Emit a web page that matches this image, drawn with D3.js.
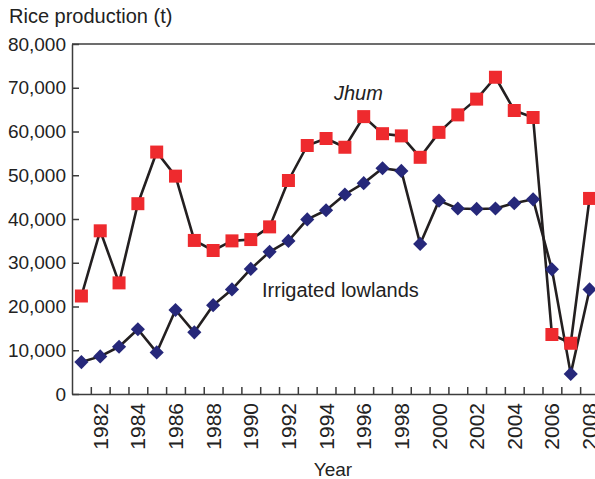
<!DOCTYPE html>
<html>
<head>
<meta charset="utf-8">
<script src="https://cdn.jsdelivr.net/npm/d3@7/dist/d3.min.js"></script>
<style>
  body { margin: 0; background: #fff; }
  svg { display: block; font-family: "Liberation Sans", Arial, sans-serif; }
</style>
</head>
<body>
<script>
// DATA
const years = d3.range(1981, 2009);
const jhum = [22400, 37300, 25400, 43500, 55300, 49800, 35100, 32800, 35000, 35300,
              38200, 48800, 56800, 58400, 56400, 63400, 59500, 59000, 54100, 59800,
              63800, 67400, 72400, 64800, 63200, 13600, 11600, 44700];
const lowlands = [7300, 8600, 10800, 14800, 9500, 19200, 14100, 20300, 23900, 28600,
                  32500, 35000, 39900, 42000, 45600, 48200, 51600, 51000, 34300, 44200,
                  42400, 42300, 42400, 43600, 44500, 28500, 4600, 23900];
const yTicks = [0, 10000, 20000, 30000, 40000, 50000, 60000, 70000, 80000];
const yearLabels = [1982, 1984, 1986, 1988, 1990, 1992, 1994, 1996, 1998, 2000, 2002, 2004, 2006, 2008];

// SIZES
const W = 595, H = 479;
const margin = {left: 72, top: 44, bottom: 394};
const yearStep = 18.82;

const svg = d3.select("body").append("svg")
  .attr("width", W)
  .attr("height", H);

const x = d3.scaleLinear()
  .domain([1980.5, 2008.5])
  .range([margin.left, margin.left + 28 * yearStep]);
const y = d3.scaleLinear()
  .domain([0, 80000])
  .range([margin.bottom, margin.top]);

const axisColor = "#3c3c3c";
const lineColor = "#231f20";

// TOP FRAME LINE
svg.append("line")
  .attr("x1", margin.left).attr("x2", W)
  .attr("y1", margin.top).attr("y2", margin.top)
  .attr("stroke", axisColor)
  .attr("stroke-width", 1.5);

// Y AXIS
const yAxis = svg.append("g")
  .attr("transform", `translate(${margin.left},0)`)
  .call(d3.axisLeft(y)
    .tickValues(yTicks)
    .tickFormat(d3.format(","))
    .tickSize(-7)
    .tickSizeOuter(0)
    .tickPadding(6));
yAxis.select(".domain").attr("stroke", axisColor).attr("stroke-width", 1.5);
yAxis.selectAll(".tick line").attr("stroke", axisColor).attr("stroke-width", 1.5);
yAxis.selectAll(".tick text")
  .style("font-size", "19px")
  .attr("fill", "#222");

// X AXIS (ticks between years)
const xAxis = svg.append("g")
  .attr("transform", `translate(0,${margin.bottom})`)
  .call(d3.axisBottom(x)
    .tickValues(d3.range(1981.5, 2008, 1))
    .tickFormat("")
    .tickSize(-7)
    .tickSizeOuter(0));
xAxis.select(".domain").attr("stroke", axisColor).attr("stroke-width", 1.5);
xAxis.selectAll(".tick line").attr("stroke", axisColor).attr("stroke-width", 1.5);

// X LABELS
svg.append("g")
  .selectAll("text")
  .data(yearLabels)
  .join("text")
  .attr("transform", d => `translate(${x(d)},403) rotate(-90)`)
  .attr("text-anchor", "end")
  .attr("dy", "0.36em")
  .style("font-size", "21px")
  .attr("fill", "#222")
  .text(d => d);

// LINES
const line = d3.line()
  .x((d, i) => x(years[i]))
  .y(d => y(d));

svg.append("path")
  .datum(lowlands)
  .attr("fill", "none")
  .attr("stroke", lineColor)
  .attr("stroke-width", 2.6)
  .attr("stroke-linejoin", "round")
  .attr("d", line);

svg.append("path")
  .datum(jhum)
  .attr("fill", "none")
  .attr("stroke", lineColor)
  .attr("stroke-width", 2.6)
  .attr("stroke-linejoin", "round")
  .attr("d", line);

// MARKERS
svg.append("g")
  .selectAll("path")
  .data(lowlands)
  .join("path")
  .attr("d", d3.symbol(d3.symbolSquare, 100))
  .attr("transform", (d, i) => `translate(${x(years[i])},${y(d)}) rotate(45)`)
  .attr("fill", "#26287a");

svg.append("g")
  .selectAll("rect")
  .data(jhum)
  .join("rect")
  .attr("x", (d, i) => x(years[i]) - 6.5)
  .attr("y", d => y(d) - 6.5)
  .attr("width", 13)
  .attr("height", 13)
  .attr("fill", "#ee2a2e");

// TEXT LABELS
svg.append("text")
  .attr("x", 9)
  .attr("y", 23)
  .style("font-size", "20px")
  .attr("fill", "#222")
  .text("Rice production (t)");

svg.append("text")
  .attr("x", 333)
  .attr("y", 476)
  .attr("text-anchor", "middle")
  .style("font-size", "19px")
  .attr("fill", "#222")
  .text("Year");

svg.append("text")
  .attr("x", 334)
  .attr("y", 100)
  .style("font-size", "20px")
  .style("font-style", "italic")
  .attr("fill", "#222")
  .text("Jhum");

svg.append("text")
  .attr("x", 262)
  .attr("y", 297)
  .style("font-size", "20px")
  .attr("fill", "#222")
  .text("Irrigated lowlands");
</script>
</body>
</html>
